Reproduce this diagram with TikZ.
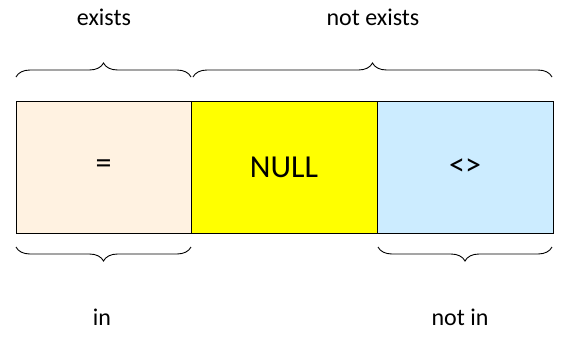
\documentclass[tikz,border=0pt]{standalone}
\usepackage{fontspec}
\setmainfont{Carlito}
\usetikzlibrary{positioning,decorations.pathreplacing}
\definecolor{eqfill}{HTML}{FFF2E1}
\definecolor{nullfill}{HTML}{FFFF00}
\definecolor{nefill}{HTML}{CCECFF}
\tikzset{
  cell/.style={draw, line width=1pt, minimum height=132pt, inner sep=0pt, outer sep=0pt, font=\fontsize{32}{36}\selectfont},
  brc/.style={decorate, decoration={brace, amplitude=14pt}, line width=0.9pt},
  lbl/.style={font=\fontsize{24}{28}\selectfont}
}
\begin{document}
\begin{tikzpicture}[x=1pt,y=-1pt]
\useasboundingbox (0,0) rectangle (570,346);
\node[cell, fill=eqfill, minimum width=175pt, anchor=north west] (eq) at (16,101) {=};
\node[cell, fill=nullfill, minimum width=186pt, right=0pt of eq] (null) {NULL};
\node[cell, fill=nefill, minimum width=176pt, right=0pt of null] (ne) {<>};

% braces above
\draw[brc] ([yshift=24pt]eq.north west) -- ([yshift=24pt]eq.north east);
\draw[brc] ([xshift=2pt,yshift=24pt]null.north west) -- ([xshift=-1pt,yshift=24pt]ne.north east);
% braces below
\draw[brc] ([yshift=-14pt]eq.south east) -- ([yshift=-14pt]eq.south west);
\draw[brc] ([xshift=-1pt,yshift=-14pt]ne.south east) -- ([xshift=1pt,yshift=-14pt]ne.south west);

\node[lbl] (exists) at (104,17) {exists};
\node[lbl] (notexists) at (373,17) {not exists};
\node[lbl] (in) at (102,317) {in};
\node[lbl] (notin) at (460,317) {not in};
\end{tikzpicture}
\end{document}
